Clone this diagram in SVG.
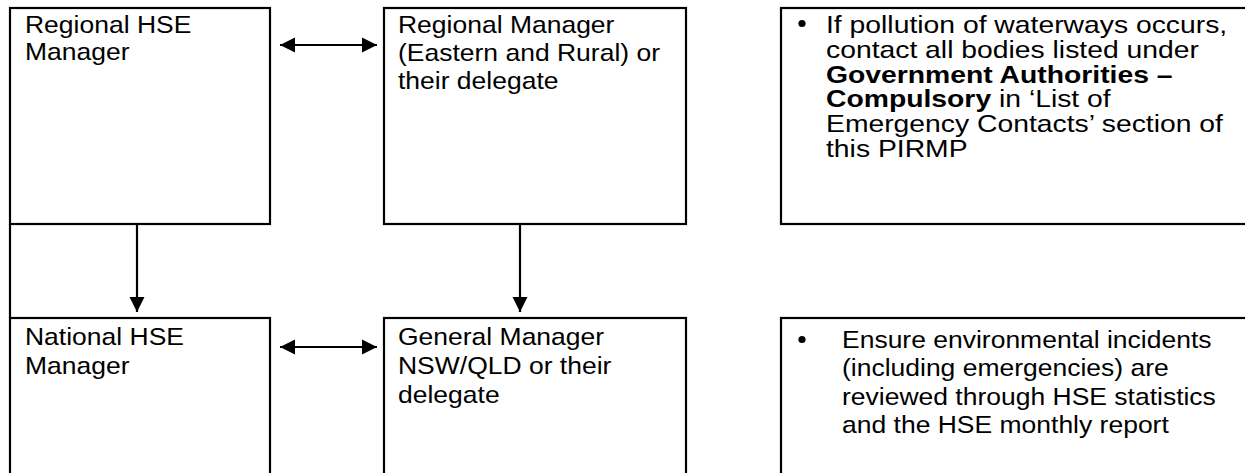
<svg xmlns="http://www.w3.org/2000/svg" width="1245" height="473" viewBox="0 0 1245 473">
<style>
.box{fill:#fff;stroke:#000;stroke-width:2.2}
.ln{stroke:#000;stroke-width:2.2;fill:none}
text{font-family:"Liberation Sans",Arial,sans-serif;font-size:24px;fill:#000}
.b{font-weight:bold}
</style>
<defs>
<marker id="ah" markerUnits="userSpaceOnUse" markerWidth="16" markerHeight="16" refX="15" refY="7.5" orient="auto-start-reverse" viewBox="0 0 16 15">
<path d="M0,0 L15,7.5 L0,15 Z" fill="#000"/>
</marker>
</defs>
<rect width="1245" height="473" fill="#fff"/>
<g id="connectors">
<line class="ln" x1="10" y1="224" x2="10" y2="318"/>
<line class="ln" x1="280" y1="45" x2="377" y2="45" marker-start="url(#ah)" marker-end="url(#ah)"/>
<line class="ln" x1="280" y1="347" x2="377" y2="347" marker-start="url(#ah)" marker-end="url(#ah)"/>
<line class="ln" x1="137" y1="225" x2="137" y2="312" marker-end="url(#ah)"/>
<line class="ln" x1="520" y1="225" x2="520" y2="312" marker-end="url(#ah)"/>
</g>
<g id="regional-hse">
<rect class="box" x="10" y="8" width="260" height="216"/>
<g transform="translate(25,0) scale(1.104,1)">
<text x="0" y="33">Regional HSE</text>
<text x="0" y="60">Manager</text>
</g>
</g>
<g id="regional-manager">
<rect class="box" x="384" y="8" width="302" height="216"/>
<g transform="translate(398,0) scale(1.104,1)">
<text x="0" y="33">Regional Manager</text>
<text x="0" y="61">(Eastern and Rural) or</text>
<text x="0" y="89">their delegate</text>
</g>
</g>
<g id="note-pollution">
<rect class="box" x="781" y="8" width="480" height="216"/>
<circle cx="802" cy="23.5" r="3.6" fill="#000"/>
<g transform="translate(826,0) scale(1.18,1)">
<text x="0" y="33">If pollution of waterways occurs,</text>
<text x="0" y="57.8">contact all bodies listed under</text>
<text x="0" y="82.6" class="b">Government Authorities –</text>
<text x="0" y="107.4"><tspan class="b">Compulsory</tspan> in ‘List of</text>
<text x="0" y="132.2">Emergency Contacts’ section of</text>
<text x="0" y="157">this PIRMP</text>
</g>
</g>
<g id="national-hse">
<rect class="box" x="10" y="318" width="260" height="200"/>
<g transform="translate(25,0) scale(1.104,1)">
<text x="0" y="345">National HSE</text>
<text x="0" y="374">Manager</text>
</g>
</g>
<g id="general-manager">
<rect class="box" x="384" y="318" width="302" height="200"/>
<g transform="translate(398,0) scale(1.104,1)">
<text x="0" y="345">General Manager</text>
<text x="0" y="374">NSW/QLD or their</text>
<text x="0" y="403">delegate</text>
</g>
</g>
<g id="note-review">
<rect class="box" x="781" y="318" width="480" height="200"/>
<circle cx="802" cy="339.5" r="3.6" fill="#000"/>
<g transform="translate(842,0) scale(1.104,1)">
<text x="0" y="348">Ensure environmental incidents</text>
<text x="0" y="376.3">(including emergencies) are</text>
<text x="0" y="404.6">reviewed through HSE statistics</text>
<text x="0" y="433">and the HSE monthly report</text>
</g>
</g>
</svg>
